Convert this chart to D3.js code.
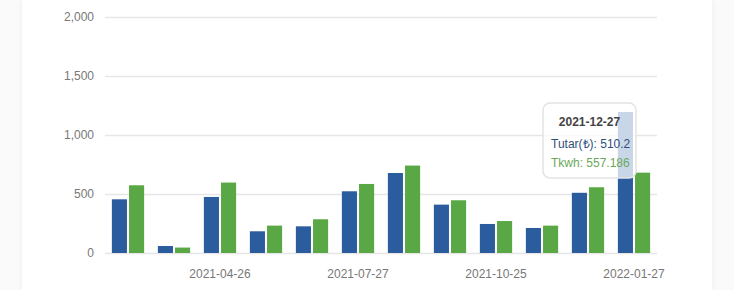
<!DOCTYPE html>
<html>
<head>
<meta charset="utf-8">
<script src="https://cdn.jsdelivr.net/npm/d3@7"></script>
<style>
  html, body { margin: 0; padding: 0; background: #fafafa; }
  #card { position: absolute; left: 22px; top: 0; width: 690px; height: 290px; background: #fff;
          box-shadow: 0 0 6px rgba(0,0,0,0.06); }
  svg { position: absolute; left: 0; top: 0; font-family: "Liberation Sans", Arial, sans-serif; }
</style>
</head>
<body>
<div id="card"></div>
<svg id="chart" width="734" height="290"></svg>
<script>
// categories (invoice dates) and series values
var dates = ["2021-02-25", "2021-03-26", "2021-04-26", "2021-05-26", "2021-06-25", "2021-07-27",
             "2021-08-26", "2021-09-24", "2021-10-25", "2021-11-25", "2021-12-27", "2022-01-27"];
var tutar = [455, 59, 475, 184, 226, 523, 678, 410, 246, 212, 510.2, 1195];
var tkwh = [574, 46, 597, 232, 286, 585, 741, 447, 271, 232, 557.186, 681];
var yTicks = [0, 500, 1000, 1500, 2000];
var shownDates = ["2021-04-26", "2021-07-27", "2021-10-25", "2022-01-27"];
var seriesNames = ["Tutar(\u20BA)", "Tkwh"];
var hoverIndex = 10;

var colors = ["#2b5c9e", "#5aa845"];
var margin = { left: 105, right: 77, top: 17, bottom: 37 };
var width = 734, height = 290;

var svg = d3.select("#chart");
var data = dates.map(function (d, i) { return { x: d, values: [tutar[i], tkwh[i]] }; });

var x = d3.scaleBand()
    .domain(dates)
    .range([margin.left, width - margin.right]);
var inner = d3.scaleBand()
    .domain([0, 1])
    .range([0, x.bandwidth()])
    .paddingInner(0.12)
    .paddingOuter(0.4);
var y = d3.scaleLinear()
    .domain([0, 2000])
    .range([height - margin.bottom, margin.top]);

// grid
svg.append("g")
    .selectAll("line")
    .data(yTicks)
    .enter().append("line")
    .attr("x1", margin.left)
    .attr("x2", width - margin.right)
    .attr("y1", function (d) { return Math.round(y(d)) + 0.5; })
    .attr("y2", function (d) { return Math.round(y(d)) + 0.5; })
    .attr("stroke", "#e6e6e6")
    .attr("stroke-width", 1.5);

// y axis
var yAxis = svg.append("g")
    .attr("transform", "translate(" + (margin.left - 11) + ",0)")
    .call(d3.axisLeft(y).tickValues(yTicks).tickSize(0).tickPadding(0).tickFormat(d3.format(",")));
yAxis.select(".domain").remove();
yAxis.selectAll("text").attr("fill", "#777").style("font-size", "12px");

// x axis
var xAxis = svg.append("g")
    .attr("transform", "translate(0," + (height - margin.bottom) + ")")
    .call(d3.axisBottom(x).tickValues(shownDates).tickSize(0).tickPadding(16));
xAxis.select(".domain").remove();
xAxis.selectAll("text").attr("fill", "#777").style("font-size", "12px");

// bars
var groups = svg.append("g")
    .selectAll("g")
    .data(data)
    .enter().append("g")
    .attr("transform", function (d) { return "translate(" + x(d.x) + ",0)"; });

groups.selectAll("rect")
    .data(function (d) { return d.values.map(function (v, k) { return { k: k, v: v }; }); })
    .enter().append("rect")
    .attr("x", function (d) { return inner(d.k); })
    .attr("width", inner.bandwidth())
    .attr("y", function (d) { return y(d.v); })
    .attr("height", function (d) { return y(0) - y(d.v); })
    .attr("fill", function (d) { return colors[d.k]; });

// tooltip
var tip = svg.append("g").attr("transform", "translate(543,103)");
tip.append("rect")
    .attr("width", 93)
    .attr("height", 75)
    .attr("rx", 7)
    .attr("fill", "rgba(255,255,255,0.75)")
    .attr("stroke", "#e3e3e3")
    .attr("stroke-width", 1.5);
tip.append("text")
    .attr("x", 46.5)
    .attr("y", 23)
    .attr("text-anchor", "middle")
    .attr("fill", "#444")
    .style("font-size", "12px")
    .style("font-weight", "bold")
    .text(dates[hoverIndex]);
tip.append("text")
    .attr("x", 8)
    .attr("y", 45)
    .attr("fill", "#2f4f7a")
    .style("font-size", "12px")
    .text(seriesNames[0] + ": " + tutar[hoverIndex]);
tip.append("text")
    .attr("x", 8)
    .attr("y", 64)
    .attr("fill", "#6aa85a")
    .style("font-size", "12px")
    .text(seriesNames[1] + ": " + tkwh[hoverIndex]);
</script>
</body>
</html>
